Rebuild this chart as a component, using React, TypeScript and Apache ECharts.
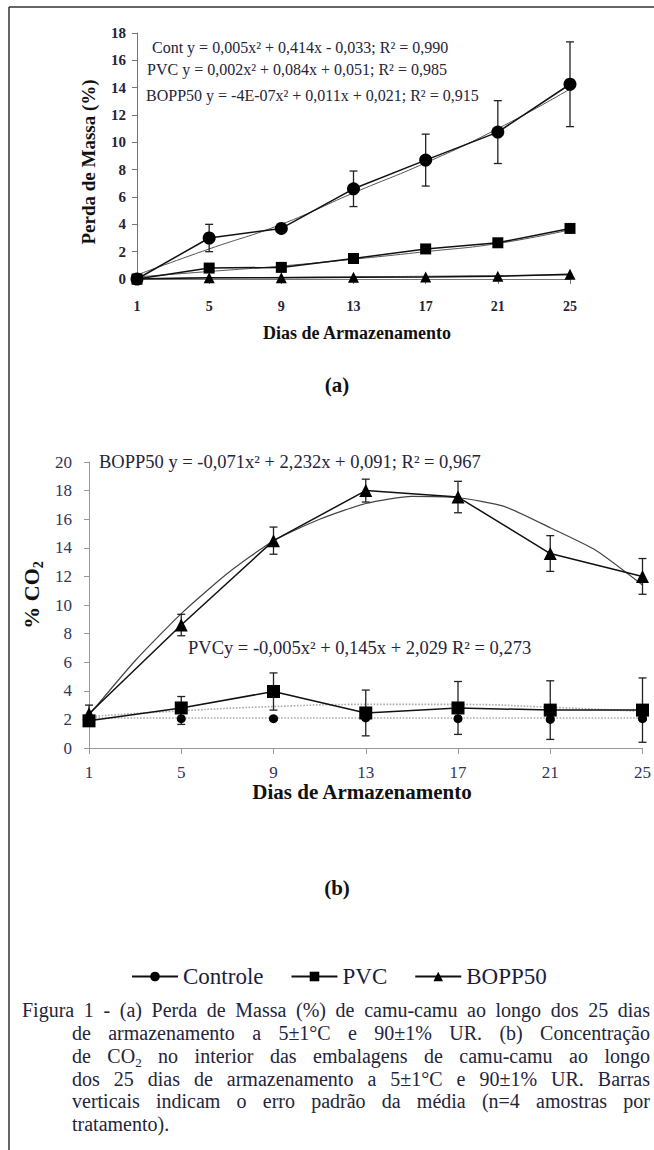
import React, { useEffect, useRef } from "react";
import * as echarts from "echarts";

const days = [1, 5, 9, 13, 17, 21, 25];
const trendDays = [1, 3, 5, 7, 9, 11, 13, 15, 17, 19, 21, 23, 25];

// (a) Perda de Massa (%)
const massaControle = [0, 3.0, 3.7, 6.6, 8.7, 10.75, 14.25];
const massaControleErr = [0.1, 1.0, 0.3, 1.3, 1.9, 2.3, 3.1];
const massaPVC = [0, 0.8, 0.85, 1.5, 2.2, 2.65, 3.7];
const massaBOPP = [0, 0.1, 0.1, 0.12, 0.15, 0.2, 0.35];
const massaTrendControle = [0.3, 2.2, 4.0, 6.3, 8.5, 11.0, 13.9];
const massaTrendPVC = [0.15, 0.55, 0.95, 1.45, 2.0, 2.6, 3.6];
const massaTrendBOPP = [0.03, 0.08, 0.12, 0.16, 0.2, 0.25, 0.3];

// (b) % CO2
const co2BOPP = [2.4, 8.6, 14.5, 18.0, 17.55, 13.6, 12.0];
const co2BOPPErr = [0.6, 0.75, 0.95, 0.8, 1.1, 1.25, 1.25];
const co2PVC = [1.9, 2.8, 3.95, 2.45, 2.8, 2.65, 2.65];
const co2PVCErr = [0.2, 0.8, 1.3, 1.6, 1.85, 2.05, 2.25];
const co2Controle = [2.0, 2.05, 2.05, 2.1, 2.05, 2.0, 2.05];
const co2ControleErr = [0.1, 0.4, 0.1, 0.1, 0.1, 0.1, 0.1];
const co2TrendBOPP = [2.3, 6.1, 9.4, 12.2, 14.5, 16.0, 17.1, 17.6, 17.5, 16.9, 15.4, 13.8, 11.4];
const co2TrendPVC = [2.2, 2.6, 2.9, 3.05, 3.05, 2.85, 2.55];
const co2TrendControle = [2.1, 2.1, 2.1, 2.1, 2.1, 2.1, 2.1];

const seriesNames = ["Controle", "PVC", "BOPP50"];

const eqA = [
  "Cont y = 0,005x² + 0,414x - 0,033; R² = 0,990",
  "PVC y = 0,002x² + 0,084x + 0,051; R² = 0,985",
  "BOPP50 y = -4E-07x² + 0,011x + 0,021; R² = 0,915",
];
const eqB = [
  "BOPP50 y = -0,071x² + 2,232x + 0,091; R² = 0,967",
  "PVCy = -0,005x² + 0,145x + 2,029 R² = 0,273",
];

const captionLines = [
  "Figura 1 - (a) Perda de Massa (%) de camu-camu ao longo dos 25 dias",
  "de armazenamento a 5±1°C e 90±1% UR. (b) Concentração",
  "de CO₂ no interior das embalagens de camu-camu ao longo",
  "dos 25 dias de armazenamento a 5±1°C e 90±1% UR. Barras",
  "verticais indicam o erro padrão da média (n=4 amostras por",
  "tratamento).",
];

const FF = "'Liberation Serif', 'Times New Roman', serif";
const TXT = "#24243a";

// day -> position on the x axis (index of the 4-day step)
const dayPos = (d: number) => (d - 1) / 4;
const pairs = (xs: number[], ys: number[]) => ys.map((v, i) => [dayPos(xs[i]), v]);

function errorBarSeries(xi: number, vals: number[], errs: number[]) {
  return {
    type: "custom",
    xAxisIndex: xi,
    yAxisIndex: xi,
    z: 3,
    silent: true,
    data: vals.map((v, i) => [dayPos(days[i]), v - errs[i], v + errs[i]]),
    encode: { x: 0, y: [1, 2] },
    renderItem: (params: any, api: any) => {
      const x = api.value(0);
      const lo = api.coord([x, api.value(1)]);
      const hi = api.coord([x, api.value(2)]);
      const w = 4;
      const st = { stroke: "#222", lineWidth: 1.3 };
      return {
        type: "group",
        children: [
          { type: "line", shape: { x1: hi[0], y1: hi[1], x2: lo[0], y2: lo[1] }, style: st },
          { type: "line", shape: { x1: hi[0] - w, y1: hi[1], x2: hi[0] + w, y2: hi[1] }, style: st },
          { type: "line", shape: { x1: lo[0] - w, y1: lo[1], x2: lo[0] + w, y2: lo[1] }, style: st },
        ],
      };
    },
  };
}

function mainSeries(xi: number, name: string, data: number[], symbol: string, size: number, lineOpacity = 1) {
  return {
    type: "line",
    name,
    xAxisIndex: xi,
    yAxisIndex: xi,
    data: pairs(days, data),
    symbol,
    symbolSize: size,
    z: 4,
    itemStyle: { color: "#000" },
    lineStyle: { color: "#111", width: 1.5, opacity: lineOpacity },
  };
}

function trendSeries(xi: number, xs: number[], data: number[], color: string, type: string, width: number, smooth: any = true) {
  return {
    type: "line",
    xAxisIndex: xi,
    yAxisIndex: xi,
    data: pairs(xs, data),
    smooth,
    symbol: "none",
    z: 2,
    silent: true,
    lineStyle: { color, width, type },
  };
}

export default function App() {
  const ref = useRef<HTMLDivElement>(null);

  useEffect(() => {
    if (!ref.current) return;
    const chart = echarts.init(ref.current, null, { renderer: "svg" });

    const ctx = document.createElement("canvas").getContext("2d")!;
    const measure = (t: string, size: number, weight = "normal") => {
      ctx.font = `${weight} ${size}px 'Liberation Serif'`;
      return ctx.measureText(t).width;
    };

    // caption: justified words
    const capSize = 20;
    const subSize = 13;
    const capY = [1010, 1033, 1056, 1079, 1101, 1124];
    const capEls: any[] = [];
    captionLines.forEach((line, li) => {
      const left = li === 0 ? 22 : 72;
      const right = 650;
      const words = line.split(" ");
      const widths = words.map((w) => {
        if (w.includes("₂")) {
          const [a, b] = w.split("₂");
          return measure(a, capSize) + measure("2", subSize) + measure(b, capSize);
        }
        return measure(w, capSize);
      });
      const total = widths.reduce((s, v) => s + v, 0);
      const last = li === captionLines.length - 1;
      const gap = last ? measure(" ", capSize) : (right - left - total) / (words.length - 1);
      let x = left;
      words.forEach((w, wi) => {
        if (w.includes("₂")) {
          const [a] = w.split("₂");
          capEls.push({ type: "text", x, y: capY[li], style: { text: a, fontSize: capSize, fontFamily: FF, fill: TXT, align: "left", verticalAlign: "middle" } });
          capEls.push({ type: "text", x: x + measure(a, capSize), y: capY[li] + 6, style: { text: "2", fontSize: subSize, fontFamily: FF, fill: TXT, align: "left", verticalAlign: "middle" } });
        } else {
          capEls.push({ type: "text", x, y: capY[li], style: { text: w, fontSize: capSize, fontFamily: FF, fill: TXT, align: "left", verticalAlign: "middle" } });
        }
        x += widths[wi] + gap;
      });
    });

    const co2Size = 22;
    const wCO = measure("% CO", co2Size, "bold");
    const wCO2 = wCO + measure("2", 14, "bold");

    const axisCommon = (color: string) => ({
      axisLine: { show: true, lineStyle: { color, width: 1 } },
      axisTick: { show: true, length: 5, lineStyle: { color, width: 1 } },
      splitLine: { show: false },
    });

    const dayLabel = (v: number) => {
      const i = Math.round(v);
      return days[i] !== undefined ? String(days[i]) : "";
    };

    const option: any = {
      animation: false,
      backgroundColor: "#fff",
      grid: [
        { left: 137, top: 33, width: 433, height: 246 },
        { left: 89, top: 462, width: 558, height: 286 },
      ],
      xAxis: [
        {
          gridIndex: 0,
          type: "value",
          min: 0,
          max: 6,
          interval: 1,
          ...axisCommon("#777"),
          axisLabel: { margin: 20, fontSize: 14, fontWeight: "bold", fontFamily: FF, color: TXT, formatter: dayLabel },
        },
        {
          gridIndex: 1,
          type: "value",
          min: 0,
          max: 6,
          interval: 1,
          ...axisCommon("#999"),
          axisTick: { show: true, length: 6, lineStyle: { color: "#999" } },
          axisLabel: { margin: 16, fontSize: 17, fontFamily: FF, color: "#33335a", formatter: dayLabel },
        },
      ],
      yAxis: [
        {
          gridIndex: 0,
          type: "value",
          min: 0,
          max: 18,
          interval: 2,
          ...axisCommon("#777"),
          axisLabel: { margin: 11, fontSize: 15, fontWeight: "bold", fontFamily: FF, color: TXT },
        },
        {
          gridIndex: 1,
          type: "value",
          min: 0,
          max: 20,
          interval: 2,
          ...axisCommon("#999"),
          axisLabel: { margin: 17, fontSize: 17, fontFamily: FF, color: "#33335a" },
        },
      ],
      legend: {
        data: seriesNames,
        left: 126,
        top: 960,
        itemWidth: 46,
        itemHeight: 12,
        itemGap: 27,
        selectedMode: false,
        textStyle: { fontSize: 23, fontFamily: FF, color: "#1c1c40" },
      },
      series: [
        trendSeries(0, days, massaTrendControle, "#555", "solid", 1),
        trendSeries(0, days, massaTrendPVC, "#555", "solid", 1),
        trendSeries(0, days, massaTrendBOPP, "#555", "solid", 1),
        errorBarSeries(0, massaControle, massaControleErr),
        mainSeries(0, "Controle", massaControle, "circle", 13),
        mainSeries(0, "PVC", massaPVC, "rect", 11),
        mainSeries(0, "BOPP50", massaBOPP, "triangle", 11),

        trendSeries(1, trendDays, co2TrendBOPP, "#444", "solid", 1.2, 0.2),
        trendSeries(1, days, co2TrendPVC, "#aaa", "dotted", 1.6),
        trendSeries(1, days, co2TrendControle, "#aaa", "dotted", 1.6),
        errorBarSeries(1, co2BOPP, co2BOPPErr),
        errorBarSeries(1, co2PVC, co2PVCErr),
        errorBarSeries(1, co2Controle, co2ControleErr),
        mainSeries(1, "Controle", co2Controle, "circle", 9, 0),
        mainSeries(1, "PVC", co2PVC, "rect", 13),
        mainSeries(1, "BOPP50", co2BOPP, "triangle", 13),
      ],
      graphic: [
        { type: "line", shape: { x1: 9, y1: 7, x2: 654, y2: 7 }, style: { stroke: "#333", lineWidth: 1.5 } },
        { type: "line", shape: { x1: 9, y1: 7, x2: 9, y2: 1150 }, style: { stroke: "#333", lineWidth: 1.5 } },
        // chart (a) texts
        { type: "text", x: 152, y: 47, style: { text: eqA[0], fontSize: 16, fontFamily: FF, fill: TXT, align: "left", verticalAlign: "middle" } },
        { type: "text", x: 147, y: 69, style: { text: eqA[1], fontSize: 16, fontFamily: FF, fill: TXT, align: "left", verticalAlign: "middle" } },
        { type: "text", x: 146, y: 95, style: { text: eqA[2], fontSize: 16, fontFamily: FF, fill: TXT, align: "left", verticalAlign: "middle" } },
        { type: "text", x: 88, y: 162, rotation: Math.PI / 2, style: { text: "Perda de Massa (%)", fontSize: 19, fontWeight: "bold", fontFamily: FF, fill: "#111", align: "center", verticalAlign: "middle" } },
        { type: "text", x: 357, y: 333, style: { text: "Dias de Armazenamento", fontSize: 18, fontWeight: "bold", fontFamily: FF, fill: "#111", align: "center", verticalAlign: "middle" } },
        { type: "text", x: 337, y: 385, style: { text: "(a)", fontSize: 21, fontWeight: "bold", fontFamily: FF, fill: "#111", align: "center", verticalAlign: "middle" } },
        // chart (b) texts
        { type: "text", x: 99, y: 462, style: { text: eqB[0], fontSize: 18.5, fontFamily: FF, fill: TXT, align: "left", verticalAlign: "middle" } },
        { type: "text", x: 188, y: 648, style: { text: eqB[1], fontSize: 18.5, fontFamily: FF, fill: TXT, align: "left", verticalAlign: "middle" } },
        {
          type: "group",
          x: 31,
          y: 595,
          rotation: Math.PI / 2,
          children: [
            { type: "text", x: -wCO2 / 2, y: 0, style: { text: "% CO", fontSize: co2Size, fontWeight: "bold", fontFamily: FF, fill: "#111", align: "left", verticalAlign: "middle" } },
            { type: "text", x: -wCO2 / 2 + wCO, y: 7, style: { text: "2", fontSize: 14, fontWeight: "bold", fontFamily: FF, fill: "#111", align: "left", verticalAlign: "middle" } },
          ],
        },
        { type: "text", x: 362, y: 792, style: { text: "Dias de Armazenamento", fontSize: 21, fontWeight: "bold", fontFamily: FF, fill: "#111", align: "center", verticalAlign: "middle" } },
        { type: "text", x: 337, y: 888, style: { text: "(b)", fontSize: 21, fontWeight: "bold", fontFamily: FF, fill: "#111", align: "center", verticalAlign: "middle" } },
        ...capEls,
      ],
    };

    chart.setOption(option);
    return () => chart.dispose();
  }, []);

  return (
    <div
      ref={ref}
      style={{ position: "fixed", left: 0, top: 0, width: 654, height: 1150, background: "#fff" }}
    />
  );
}
